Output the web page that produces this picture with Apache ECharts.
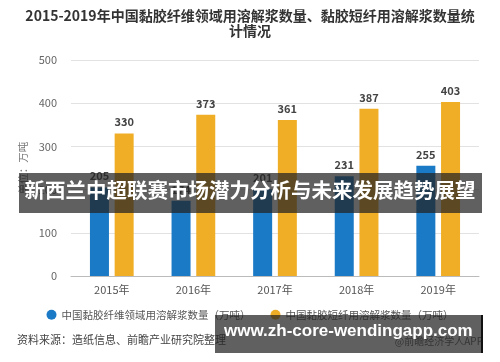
<!DOCTYPE html>
<html><head><meta charset="utf-8">
<script src="https://cdn.jsdelivr.net/npm/echarts@6/dist/echarts.min.js"></script>
<style>html,body{margin:0;padding:0;background:#fff}#c{width:500px;height:362px}</style>
</head><body><div id="c"></div>
<script>
var categories = ['2015年','2016年','2017年','2018年','2019年'];
var fiberValues = [205, 174, 201, 231, 255];
var stapleValues = [330, 373, 361, 387, 403];
var seriesNames = ['中国黏胶纤维领域用溶解浆数量（万吨）','中国黏胶短纤用溶解浆数量（万吨）'];
var titleText = '2015-2019年中国黏胶纤维领域用溶解浆数量、黏胶短纤用溶解浆数量统\n计情况';
var yAxisName = '单位：万吨';
var sourceText = '资料来源：造纸信息、前瞻产业研究院整理';
var creditText = '@前瞻经济学人APP';
var bannerText = '新西兰中超联赛市场潜力分析与未来发展趋势展望';
var urlText = 'www.zh-core-wendingapp.com';

var font = '"Noto Sans CJK SC", "Noto Sans", sans-serif';
var chart = echarts.init(document.getElementById('c'));
chart.setOption({
  animation: false,
  textStyle: {fontFamily: font},
  title: {
    text: titleText, left: 'center', top: 3,
    textStyle: {fontSize: 14, fontWeight: 'bold', color: '#333', lineHeight: 15, fontFamily: font}
  },
  grid: {left: 71, right: 21, top: 60, bottom: 86},
  legend: {
    bottom: 37, left: 'center', itemWidth: 10, itemHeight: 10, itemGap: 20, icon: 'circle',
    textStyle: {fontSize: 10.5, color: '#555', fontFamily: font}
  },
  xAxis: {
    type: 'category', data: categories,
    axisTick: {alignWithLabel: true, lineStyle: {color: '#bbb'}},
    axisLine: {lineStyle: {color: '#bbb'}},
    axisLabel: {fontSize: 11, color: '#555', margin: 8}
  },
  yAxis: {
    type: 'value', min: 0, max: 500, interval: 100,
    name: yAxisName, nameLocation: 'middle', nameRotate: 90, nameGap: 40,
    nameTextStyle: {fontSize: 10.5, color: '#777'},
    axisLine: {show: false}, axisTick: {show: false},
    axisLabel: {fontSize: 11, color: '#666', margin: 14},
    splitLine: {lineStyle: {color: '#e2e2e2'}}
  },
  series: [
    {name: seriesNames[0], type: 'bar', data: fiberValues, barWidth: 19, barGap: '30%',
     itemStyle: {color: '#1b7ac6'},
     label: {show: true, position: 'top', fontSize: 11, fontWeight: 'bold', color: '#444', distance: 6}},
    {name: seriesNames[1], type: 'bar', data: stapleValues, barWidth: 19,
     itemStyle: {color: '#f0ae27'},
     label: {show: true, position: 'top', fontSize: 11, fontWeight: 'bold', color: '#444', distance: 6}}
  ],
  graphic: [
    {type: 'text', left: 17, top: 334, z: 10,
     style: {text: sourceText, fontSize: 11, fill: '#444', fontFamily: font}},
    {type: 'text', right: 17, top: 336, z: 10,
     style: {text: creditText, fontSize: 10, fill: '#666', fontFamily: font}},
    {type: 'rect', left: 19, top: 173, z: 100,
     shape: {width: 463, height: 40}, style: {fill: 'rgba(35,35,35,0.72)'}},
    {type: 'text', left: 'center', top: 180, z: 101,
     style: {text: bannerText, fill: '#fff', fontSize: 20.5, fontWeight: 'bold', fontFamily: font}},
    {type: 'rect', left: 215, top: 315, z: 100,
     shape: {width: 267, height: 38}, style: {fill: 'rgba(35,35,35,0.72)'}},
    {type: 'rect', left: 481, top: 315, z: 101,
     shape: {width: 2, height: 38}, style: {fill: '#111'}},
    {type: 'text', left: 224, top: 323, z: 101,
     style: {text: urlText, fill: '#fff', fontSize: 17, fontWeight: 'bold', fontFamily: '"Liberation Sans", Arial, sans-serif'}}
  ]
});
</script>
</body></html>
